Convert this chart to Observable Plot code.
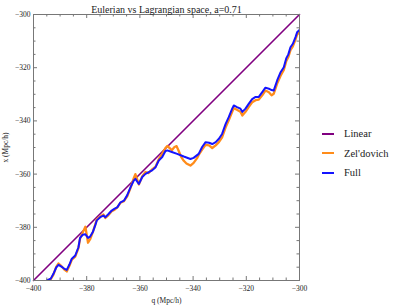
<!DOCTYPE html>
<html><head><meta charset="utf-8">
<script src="https://cdn.jsdelivr.net/npm/d3@7"></script>
<script src="https://cdn.jsdelivr.net/npm/@observablehq/plot@0.6"></script>
<style>
body{margin:0;background:#fff;}
#wrap{position:relative;width:399px;height:306px;font-family:"Liberation Serif","DejaVu Serif",serif;}
#legend{position:absolute;left:322px;top:124px;font-size:10.5px;color:#222;}
.row{height:19.5px;display:flex;align-items:center;}
.sw{width:12px;height:0;border-top:2px solid;margin-right:10px;}
</style></head><body><div id="wrap"><div id="legend"></div></div>
<script>
const qLinear=[-400,-300];
const xLinear=[-400,-300];
const qFull=[-395.0,-393.5,-392.5,-391.5,-390.6,-389.5,-388.5,-387.5,-386.5,-385.6,-384.3,-383.1,-382.5,-381.5,-380.5,-379.5,-378.7,-377.7,-376.8,-376.2,-374.9,-373.7,-373.0,-371.8,-370.6,-369.5,-368.5,-367.3,-366.0,-364.8,-363.5,-362.3,-361.7,-360.4,-359.1,-357.9,-356.7,-355.4,-354.1,-352.9,-351.6,-350.4,-349.7,-348.0,-346.0,-343.5,-341.0,-339.8,-337.9,-336.6,-335.3,-334.0,-332.8,-331.5,-330.3,-329.1,-327.8,-326.6,-325.3,-324.7,-323.5,-322.2,-321.5,-320.3,-319.1,-317.8,-316.5,-315.3,-314.0,-312.8,-311.5,-310.5,-309.7,-308.4,-307.1,-305.9,-305.0,-304.2,-303.4,-302.5,-301.5,-300.9,-300.0];
const xFull=[-400.0,-399.3,-397.5,-395.2,-394.1,-394.8,-395.5,-396.0,-394.0,-391.8,-390.6,-387.5,-384.0,-382.8,-382.6,-384.0,-383.5,-381.8,-379.3,-377.4,-376.2,-375.6,-376.2,-375.0,-373.7,-373.0,-372.5,-370.6,-370.0,-368.0,-364.9,-362.4,-361.8,-363.7,-361.1,-359.9,-359.3,-358.6,-357.4,-354.9,-353.6,-351.3,-351.1,-351.7,-352.4,-353.4,-354.3,-353.9,-352.4,-349.8,-348.0,-348.2,-348.7,-348.0,-346.7,-344.9,-341.2,-338.6,-335.4,-334.2,-334.8,-335.4,-336.6,-335.4,-333.6,-331.8,-331.0,-331.0,-329.2,-327.5,-327.9,-328.4,-328.6,-324.8,-321.7,-319.8,-316.5,-315.0,-312.3,-311.0,-308.5,-306.7,-305.8];
const qZel=[-394.6,-393.5,-392.5,-391.5,-390.6,-389.5,-388.5,-387.5,-386.5,-385.6,-384.3,-383.1,-382.5,-381.5,-380.5,-379.5,-378.7,-377.7,-376.8,-376.2,-374.9,-373.7,-373.0,-371.8,-370.6,-369.5,-368.5,-367.3,-366.0,-364.8,-363.5,-362.3,-361.7,-360.4,-359.1,-357.9,-356.7,-355.4,-354.1,-352.9,-351.6,-350.4,-349.7,-348.0,-347.0,-346.2,-345.4,-344.5,-343.5,-342.5,-341.0,-339.8,-338.5,-337.9,-336.6,-335.3,-334.0,-332.8,-331.5,-330.3,-329.1,-327.8,-326.6,-325.3,-324.7,-323.5,-322.2,-321.5,-320.3,-319.1,-317.8,-316.5,-315.3,-314.0,-312.8,-311.5,-310.5,-309.7,-308.4,-307.1,-305.9,-305.0,-304.2,-303.4,-302.5,-301.5,-300.9,-300.0];
const xZel=[-400.0,-399.5,-397.8,-395.0,-393.6,-394.6,-395.8,-396.6,-394.5,-392.2,-391.0,-387.8,-384.3,-382.0,-379.8,-385.8,-384.5,-381.8,-379.0,-377.0,-376.0,-375.2,-376.5,-375.4,-374.0,-373.4,-372.5,-370.8,-370.2,-368.4,-365.2,-361.5,-360.0,-363.9,-360.8,-359.2,-359.6,-358.2,-357.2,-354.4,-352.4,-350.2,-349.4,-351.0,-349.8,-349.5,-351.3,-353.5,-355.0,-356.0,-356.8,-355.8,-354.0,-352.8,-350.8,-349.0,-349.2,-350.2,-349.2,-348.0,-346.2,-342.5,-339.8,-336.6,-335.2,-335.8,-336.6,-338.0,-336.6,-334.8,-333.0,-332.2,-332.0,-330.4,-328.6,-329.2,-330.4,-329.8,-326.0,-323.0,-320.8,-317.6,-316.0,-313.4,-312.0,-309.4,-307.6,-306.6];
const majorTicks=[-400,-380,-360,-340,-320,-300];
const minorTicks=[-395,-390,-385,-375,-370,-365,-355,-350,-345,-335,-330,-325,-315,-310,-305];
const seriesNames=["Linear","Zel'dovich","Full"];
const seriesColors=["#800080","#ff8c1a","#1414ff"];
const titleText="Eulerian vs Lagrangian space, a=0.71";

const W=399,H=306,mL=33,mR=100,mT=14,mB=26;
const iW=W-mL-mR, iH=H-mT-mB;
const toRows=(qs,xs)=>qs.map((q,i)=>({q,x:xs[i]}));
const lin=toRows(qLinear,xLinear), zel=toRows(qZel,xZel), full=toRows(qFull,xFull);
const tc="#777";
const chart=Plot.plot({
  width:W,height:H,marginLeft:mL,marginRight:mR,marginTop:mT,marginBottom:mB,
  style:{fontFamily:"Liberation Serif, DejaVu Serif, serif",background:"white",color:"#222"},
  x:{domain:[-400,-300]},
  y:{domain:[-400,-300]},
  marks:[
    Plot.line(lin,{x:"q",y:"x",stroke:seriesColors[0],strokeWidth:1.6}),
    Plot.line(zel,{x:"q",y:"x",stroke:seriesColors[1],strokeWidth:2.3,clip:true}),
    Plot.line(full,{x:"q",y:"x",stroke:seriesColors[2],strokeWidth:2,clip:true}),
    Plot.frame({stroke:tc}),
    Plot.tickX(majorTicks,{x:d=>d,insetTop:iH-4,stroke:tc}),
    Plot.tickX(majorTicks,{x:d=>d,insetBottom:iH-4,stroke:tc}),
    Plot.tickX(minorTicks,{x:d=>d,insetTop:iH-2.5,stroke:tc}),
    Plot.tickX(minorTicks,{x:d=>d,insetBottom:iH-2.5,stroke:tc}),
    Plot.tickY(majorTicks,{y:d=>d,insetRight:iW-4,stroke:tc}),
    Plot.tickY(majorTicks,{y:d=>d,insetLeft:iW-4,stroke:tc}),
    Plot.tickY(minorTicks,{y:d=>d,insetRight:iW-2.5,stroke:tc}),
    Plot.tickY(minorTicks,{y:d=>d,insetLeft:iW-2.5,stroke:tc}),
    Plot.axisX({ticks:majorTicks,tickSize:0,tickPadding:5,fontSize:7.5,label:"q (Mpc/h)",labelAnchor:"center",labelArrow:"none",labelOffset:22}),
    Plot.axisY({ticks:majorTicks,tickSize:0,tickPadding:3,fontSize:7.5,label:"x (Mpc/h)",labelAnchor:"center",labelArrow:"none",labelOffset:31}),
    Plot.text([titleText],{frameAnchor:"top",dy:-9,fontSize:10,fill:"#222"})
  ]
});
const wrap=document.getElementById("wrap");
wrap.insertBefore(chart,wrap.firstChild);
const lg=document.getElementById("legend");
seriesNames.forEach((n,i)=>{
  const r=document.createElement("div");r.className="row";
  const s=document.createElement("div");s.className="sw";s.style.borderTopColor=seriesColors[i];
  const t=document.createElement("span");t.textContent=n;
  r.appendChild(s);r.appendChild(t);lg.appendChild(r);
});
</script></body></html>
